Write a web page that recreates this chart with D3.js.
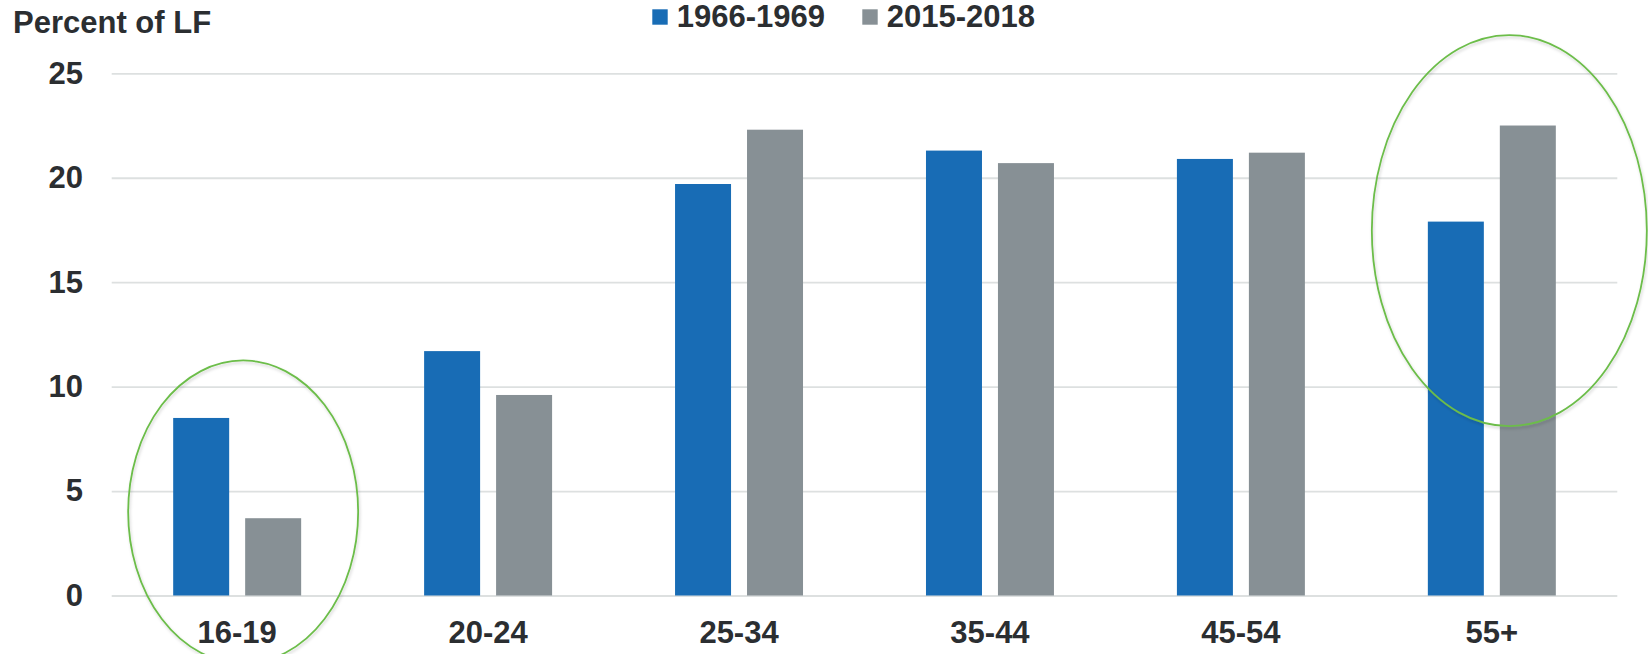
<!DOCTYPE html>
<html>
<head>
<meta charset="utf-8">
<script src="https://cdn.jsdelivr.net/npm/d3@7"></script>
<style>
  html, body { margin: 0; padding: 0; background: #ffffff; }
  svg { display: block; font-family: "Liberation Sans", Arial, sans-serif; }
</style>
</head>
<body>
<svg id="chart" width="1648" height="654"></svg>
<script>
// Age groups of the labor force
const categories = ["16-19", "20-24", "25-34", "35-44", "45-54", "55+"];
// Series names (periods)
const seriesNames = ["1966-1969", "2015-2018"];
// Share of the labor force, percent
const values1966 = [8.5, 11.7, 19.7, 21.3, 20.9, 17.9];
const values2015 = [3.7, 9.6, 22.3, 20.7, 21.2, 22.5];
// Y-axis ticks
const yTicks = [0, 5, 10, 15, 20, 25];
// Highlighted groups
const highlighted = ["16-19", "55+"];

const seriesColors = ["#186cb5", "#879095"];
const textColor = "#2b2e31";
const gridColor = "#dde0e0";
const ringColor = "#6cbd4a";

const W = 1648, H = 654;
const margin = { top: 73.3, right: 30.7, bottom: 58.5, left: 111.7 };
const innerW = W - margin.left - margin.right;
const innerH = H - margin.top - margin.bottom;

const svg = d3.select("#chart");

const defs = svg.append("defs");
const shadow = defs.append("filter").attr("id", "ringShadow")
  .attr("x", "-10%").attr("y", "-10%").attr("width", "120%").attr("height", "120%");
shadow.append("feDropShadow").attr("dx", 1).attr("dy", 2)
  .attr("stdDeviation", 1.5).attr("flood-color", "#000").attr("flood-opacity", 0.18);

const g = svg.append("g").attr("transform", `translate(${margin.left},${margin.top})`);

const x0 = d3.scaleBand().domain(categories).range([0, innerW])
  .paddingInner(0.49).paddingOuter(0.245);
const x1 = d3.scaleBand().domain(seriesNames).range([0, x0.bandwidth()])
  .paddingInner(0.222).paddingOuter(0);
const y = d3.scaleLinear().domain([0, 25]).range([innerH, 0]);

// Gridlines + y labels
const yAxis = g.append("g")
  .call(d3.axisLeft(y).tickValues(yTicks).tickSize(-innerW).tickPadding(28.7).tickFormat(d3.format("d")));
yAxis.select(".domain").remove();
yAxis.selectAll(".tick line").attr("stroke", gridColor).attr("stroke-width", 1.8);
yAxis.selectAll(".tick text")
  .attr("fill", textColor).attr("font-size", 31).attr("font-weight", "bold")
  .attr("font-family", "Liberation Sans, Arial, sans-serif");

// Bars
const rows = categories.map((c, i) => ({ cat: c, vals: [values1966[i], values2015[i]] }));
const groups = g.append("g").selectAll("g").data(rows).join("g")
  .attr("transform", d => `translate(${x0(d.cat)},0)`);
groups.selectAll("rect")
  .data(d => d.vals.map((v, k) => ({ key: seriesNames[k], v, k })))
  .join("rect")
  .attr("x", d => x1(d.key))
  .attr("width", x1.bandwidth())
  .attr("y", d => y(d.v))
  .attr("height", d => y(0) - y(d.v))
  .attr("fill", d => seriesColors[d.k]);

// X labels
const xAxis = g.append("g").attr("transform", `translate(0,${innerH})`)
  .call(d3.axisBottom(x0).tickSize(0).tickPadding(25.5));
xAxis.select(".domain").remove();
xAxis.selectAll(".tick text")
  .attr("fill", textColor).attr("font-size", 31).attr("font-weight", "bold")
  .attr("font-family", "Liberation Sans, Arial, sans-serif");

// Highlight rings around selected groups
const rings = [
  { cat: highlighted[0], dx: 6, cyVal: 4.0, rx: 115, ry: 151.5 },
  { cat: highlighted[1], dx: 17.5, cyVal: 17.47, rx: 137.5, ry: 195.5 }
];
g.append("g").selectAll("ellipse").data(rings).join("ellipse")
  .attr("cx", d => x0(d.cat) + x0.bandwidth() / 2 + d.dx)
  .attr("cy", d => y(d.cyVal))
  .attr("rx", d => d.rx)
  .attr("ry", d => d.ry)
  .attr("fill", "none")
  .attr("stroke", ringColor)
  .attr("stroke-width", 1.8)
  .attr("filter", "url(#ringShadow)");

// Y-axis title
svg.append("text")
  .attr("x", 13).attr("y", 33.3)
  .attr("fill", textColor).attr("font-size", 31).attr("font-weight", "bold")
  .text("Percent of LF");

// Legend
const legendX = [652.3, 862.3];
const legend = svg.append("g").selectAll("g").data(seriesNames).join("g")
  .attr("transform", (d, i) => `translate(${legendX[i]},0)`);
legend.append("rect")
  .attr("x", 0).attr("y", 9.3).attr("width", 15.4).attr("height", 15.4)
  .attr("fill", (d, i) => seriesColors[i]);
legend.append("text")
  .attr("x", 24.5).attr("y", 27.3)
  .attr("fill", textColor).attr("font-size", 31).attr("font-weight", "bold")
  .text(d => d);
</script>
</body>
</html>
